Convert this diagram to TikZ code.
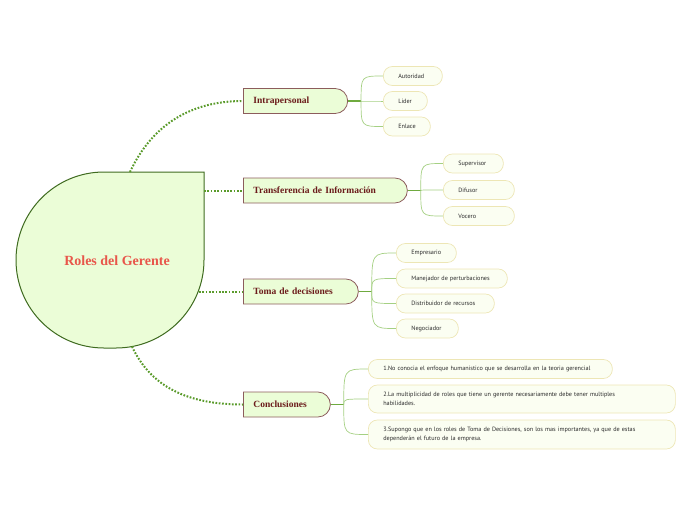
\documentclass[tikz,border=0pt]{standalone}
\usepackage{fontspec}
\setmainfont{Liberation Serif}
\newfontfamily\leaffont{PT Sans}
\usepackage{tikz}
\usetikzlibrary{shapes,positioning,calc}
\hyphenpenalty=10000
\exhyphenpenalty=10000

\definecolor{rootfill}{HTML}{EBFDD7}
\definecolor{rootdraw}{HTML}{3F6B20}
\definecolor{rootred}{HTML}{E8564A}
\definecolor{branchfill}{HTML}{EBFDD7}
\definecolor{branchdraw}{HTML}{8C5C5C}
\definecolor{branchtext}{HTML}{6B1B1B}
\definecolor{leaffill}{HTML}{FBFEF2}
\definecolor{leafdraw}{HTML}{EDE6B5}
\definecolor{leaftext}{HTML}{2A2A2A}
\definecolor{dotgreen}{HTML}{5B9B2C}
\definecolor{stubgreen}{HTML}{6FAA3F}
\definecolor{leafline}{HTML}{A5D083}

\begin{document}
\begin{tikzpicture}[x=1pt, y=1pt,
        rootshape/.style={draw=rootdraw, line width=1pt, fill=rootfill},
        roottitle/.style={font=\bfseries\fontsize{14}{16}\selectfont, text=rootred},
        branch/.style={
            rounded rectangle, rounded rectangle west arc=none,
            draw=branchdraw, line width=0.8pt, fill=branchfill,
            minimum height=25pt, inner xsep=10pt, inner ysep=2pt,
            align=left, anchor=west, text=branchtext,
            font=\bfseries\fontsize{9.5}{10}\selectfont
          },
        leaf/.style={
            rectangle, rounded corners=9pt,
            draw=leafdraw, line width=0.7pt, fill=leaffill,
            minimum height=19pt, inner xsep=15pt, inner ysep=2pt,
            align=left, anchor=west, text=leaftext,
            font=\leaffont\fontsize{6.2}{9}\selectfont
          },
        rootlink/.style={draw=dotgreen, line width=2pt, dash pattern=on 1.7pt off 1.6pt},
        stub/.style={draw=stubgreen, line width=1.6pt},
        leaflink/.style={draw=leafline, line width=0.7pt},
      ]
      \useasboundingbox (0,0) rectangle (696,-520);

      % Central shape
      \draw [rootshape] (204,-172) -- (204,-260) arc [start angle=0, end angle=-90, radius=88]
        -- (104,-348) arc [start angle=270, end angle=180, radius=88]
        arc [start angle=180, end angle=90, radius=88] -- cycle;
      \node [roottitle] (root) at (117,-261) {Roles del Gerente};
      \coordinate (root-n) at (130,-172);
      \coordinate (root-e1) at (204,-190.5);
      \coordinate (root-e2) at (199,-291.5);
      \coordinate (root-s) at (132,-346.5);

      % Main branches
      \node [branch, text width=83.5pt] (intra) at (243,-101) {Intrapersonal};
      \node [branch, text width=143.5pt] (trans) at (243,-190.5) {Transferencia de Información};
      \node [branch, text width=94.5pt] (toma) at (243,-291.5) {Toma de decisiones};
      \node [branch, text width=66.5pt] (concl) at (243,-404.5) {Conclusiones};

      % Leaves: Intrapersonal
      \node [leaf, text width=29pt] (aut) at (383,-76) {Autoridad};
      \node [leaf, text width=14pt] (lid) at (383,-101) {Lider};
      \node [leaf, text width=17pt] (enl) at (383,-126.5) {Enlace};

      % Leaves: Transferencia de Informacion
      \node [leaf, text width=30pt] (sup) at (443,-163.5) {Supervisor};
      \node [leaf, text width=41pt] (dif) at (443,-190) {Difusor};
      \node [leaf, text width=41pt] (voc) at (443,-216) {Vocero};

      % Leaves: Toma de decisiones
      \node [leaf, text width=30pt] (emp) at (396,-253) {Empresario};
      \node [leaf, text width=81pt] (man) at (396,-278.5) {Manejador de perturbaciones};
      \node [leaf, text width=68pt] (dis) at (396,-303.5) {Distribuidor de recursos};
      \node [leaf, text width=32pt] (neg) at (396,-328.5) {Negociador};

      % Leaves: Conclusiones
      \node [leaf, text width=214pt] (c1) at (368,-369) {1.No conocia el enfoque humanistico que se desarrolla en la teoria gerencial};
      \node [leaf, text width=277pt, minimum height=28pt] (c2) at (368,-399) {2.La multiplicidad de roles que tiene un gerente necesariamente debe tener multiples\\habilidades.};
      \node [leaf, text width=277pt, minimum height=29pt] (c3) at (368,-434.5) {3.Supongo que en los roles de Toma de Decisiones, son los mas importantes, ya que de estas\\dependerán el futuro de la empresa.};

      % Links from the centre
      \draw [rootlink] (root-n) to [out=65, in=180] (intra.west);
      \draw [rootlink] (root-e1) -- (trans.west);
      \draw [rootlink] (root-e2) -- (toma.west);
      \draw [rootlink] (root-s) to [out=-65, in=180] (concl.west);

      % Junctions
      \coordinate (intra-j) at ([xshift=13pt]intra.east);
      \coordinate (trans-j) at ([xshift=13pt]trans.east);
      \coordinate (toma-j) at ([xshift=13pt]toma.east);
      \coordinate (concl-j) at ([xshift=13pt]concl.east);

      \draw [stub] (intra.east) -- (intra-j);
      \draw [stub] (trans.east) -- (trans-j);
      \draw [stub] (toma.east) -- (toma-j);
      \draw [stub] (concl.east) -- (concl-j);

      % Links to the leaves
      \foreach \l in {aut,lid,enl}
        \draw [leaflink] (intra-j) .. controls (intra-j |- \l.west) .. (\l.west);
      \foreach \l in {sup,dif,voc}
        \draw [leaflink] (trans-j) .. controls (trans-j |- \l.west) .. (\l.west);
      \foreach \l in {emp,man,dis,neg}
        \draw [leaflink] (toma-j) .. controls (toma-j |- \l.west) .. (\l.west);
      \foreach \l in {c1,c2,c3}
        \draw [leaflink] (concl-j) .. controls (concl-j |- \l.west) .. (\l.west);
    \end{tikzpicture}
\end{document}
